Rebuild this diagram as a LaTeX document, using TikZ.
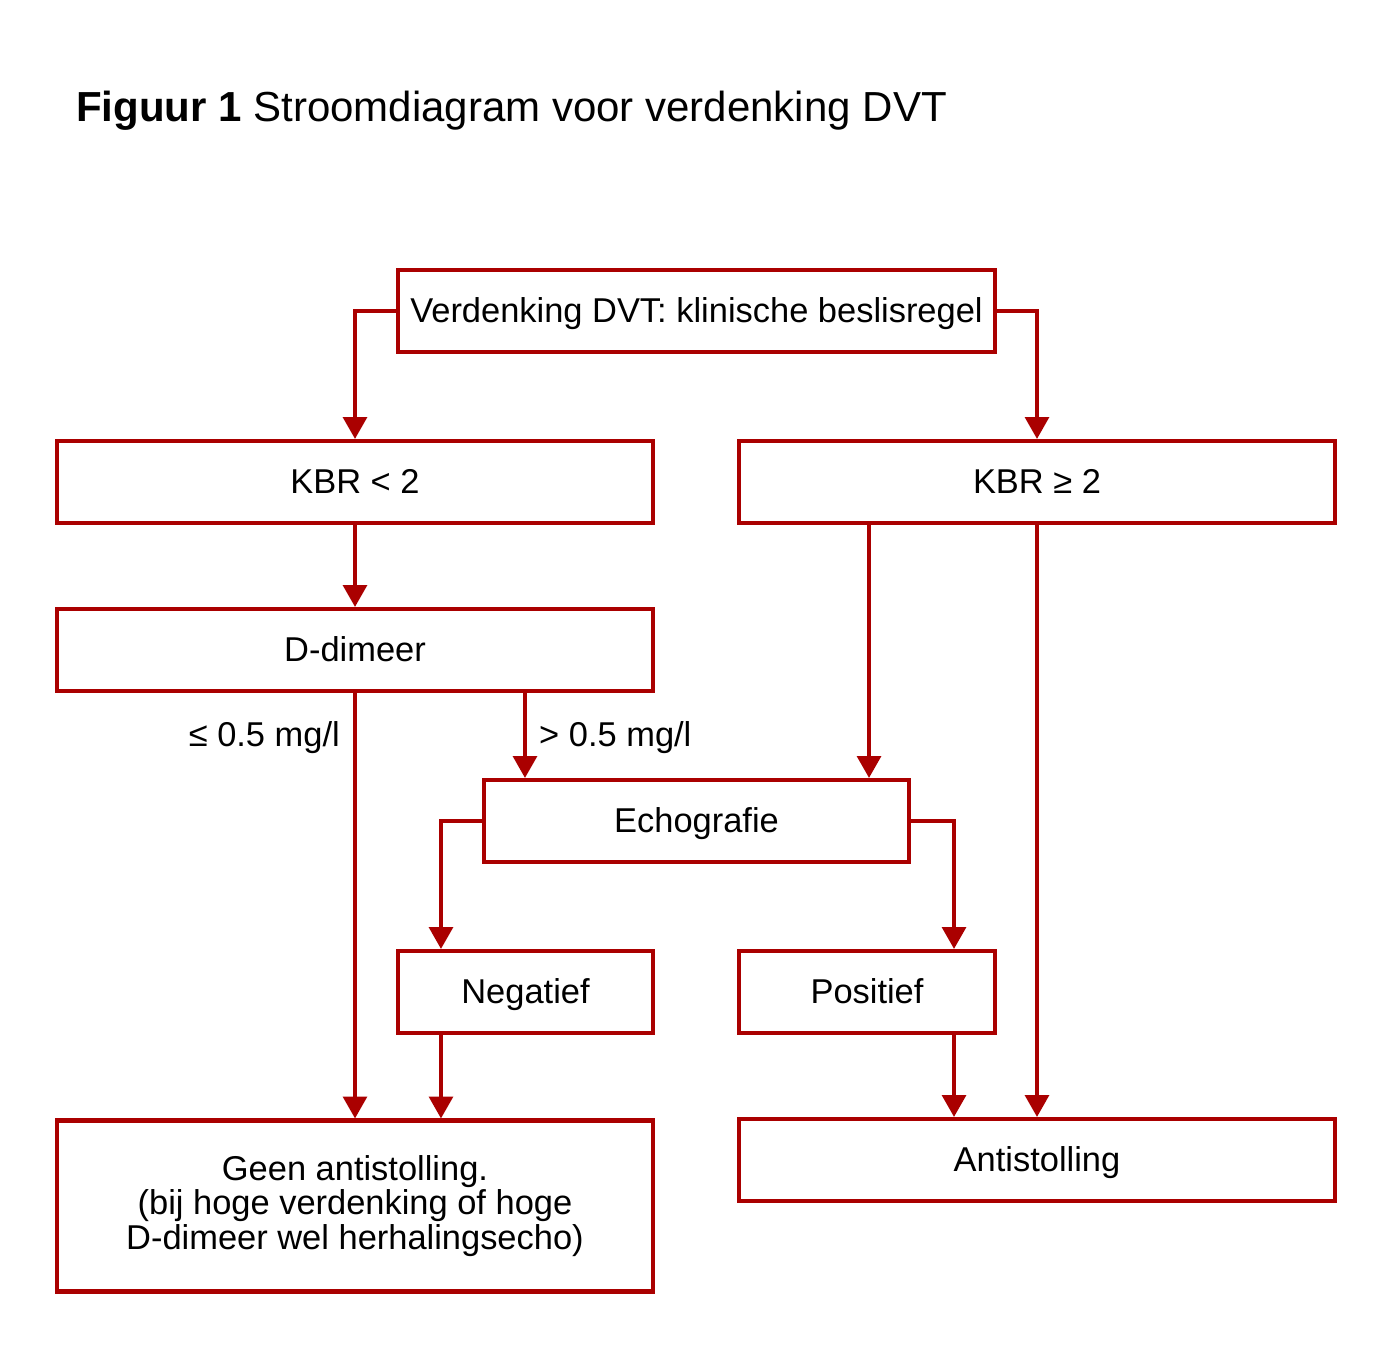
\documentclass[tikz,border=0pt]{standalone}
\usepackage{fontspec}
\setmainfont{Liberation Sans}
\usetikzlibrary{arrows.meta,calc}
\definecolor{dvtred}{HTML}{AA0000}
\tikzset{
	boxbase/.style={draw=dvtred, line width=2.3pt, inner sep=0pt, minimum height=1.64cm, font=\fontsize{19.6}{19.4}\selectfont, align=center},
	box/.style={boxbase, text height=17.6pt, text depth=4pt},
	tallbox/.style={boxbase, minimum height=3.42cm},
	arr/.style={draw=dvtred, line width=2.3pt, -{Triangle[width=13.5pt,length=12.5pt]}},
	lbl/.style={font=\fontsize{19.6}{22}\selectfont}
}

\begin{document}
\begin{tikzpicture}
			%%%%% START %%%%%
			
			\useasboundingbox (0, 0) rectangle (28, -27.4);
			
			\node[anchor=base west, font=\fontsize{23.9}{28}\selectfont] (title) at (1.40, -2.44) {\textbf{Figuur 1} Stroomdiagram voor verdenking DVT};
			
			\node[box, minimum width=11.94cm] (start) at (13.93, -6.22) {Verdenking DVT: klinische beslisregel};
			\node[box, minimum width=11.92cm] (kbrlow) at (7.10, -9.64) {KBR < 2};
			\node[box, minimum width=11.92cm] (kbrhigh) at (20.74, -9.64) {KBR ≥ 2};
			\node[box, minimum width=11.92cm] (ddimeer) at (7.10, -13.00) {D-dimeer};
			\node[box, minimum width=8.50cm] (echo) at (13.93, -16.42) {Echografie};
			\node[box, minimum width=5.10cm] (neg) at (10.51, -19.84) {Negatief};
			\node[box, minimum width=5.12cm] (pos) at (17.34, -19.84) {Positief};
			\node[tallbox, minimum width=11.92cm] (geen) at (7.10, -24.12) {Geen antistolling.\\(bij hoge verdenking of hoge\\D-dimeer wel herhalingsecho)};
			\node[box, minimum width=11.92cm] (anti) at (20.74, -23.20) {Antistolling};
			
			\draw[arr] (start.west) -| (kbrlow.north);
			\draw[arr] (start.east) -| (kbrhigh.north);
			\draw[arr] (kbrlow.south) -- (ddimeer.north);
			\draw[arr] ([xshift=-0.84cm]echo.north east |- kbrhigh.south) -- ([xshift=-0.84cm]echo.north east);
			\draw[arr] (kbrhigh.south) -- (anti.north);
			
			\draw[arr] (ddimeer.south) -- (geen.north);
			\draw[arr] ([xshift=0.86cm]echo.north west |- ddimeer.south) -- ([xshift=0.86cm]echo.north west);
			\node[lbl, anchor=east] (lowlbl) at (6.92, -14.76) {≤ 0.5 mg/l};
			\node[lbl, anchor=west] (highlbl) at (10.66, -14.76) {> 0.5 mg/l};
			
			\draw[arr] (echo.west) -| ([xshift=0.9cm]neg.north west);
			\draw[arr] (echo.east) -| ([xshift=-0.86cm]pos.north east);
			\draw[arr] ([xshift=0.9cm]neg.south west) -- ([xshift=0.9cm]neg.south west |- geen.north);
			\draw[arr] ([xshift=-0.86cm]pos.south east) -- ([xshift=-0.86cm]pos.south east |- anti.north);
			
			%%%%% END %%%%%
		\end{tikzpicture}
\end{document}
